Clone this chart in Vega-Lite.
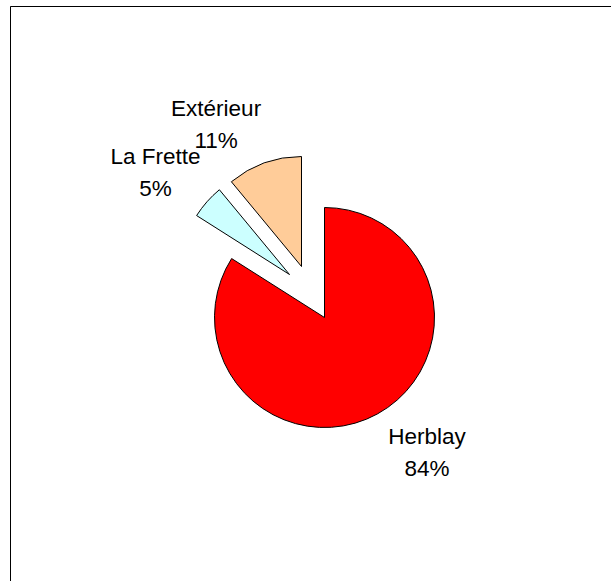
{
  "$schema": "https://vega.github.io/schema/vega-lite/v6.json",
  "width": 601,
  "height": 575,
  "autosize": "none",
  "padding": {"left": 10, "top": 6, "right": 0, "bottom": 0},
  "background": "white",
  "view": {"stroke": "#000000", "strokeWidth": 1, "fill": "white", "strokeDash": [601, 1176, 576, 3000]},
  "config": {
    "text": {"font": "Liberation Sans"}
  },
  "data": {
    "values": [
      {"name": "Herblay", "value": 84, "label": "Herblay\n84%", "rank": 1},
      {"name": "La Frette", "value": 5, "label": "La Frette\n5%", "rank": 2},
      {"name": "Extérieur", "value": 11, "label": "Extérieur\n11%", "rank": 3}
    ]
  },
  "encoding": {
    "theta": {"field": "value", "type": "quantitative", "stack": true},
    "order": {"field": "rank", "type": "quantitative"}
  },
  "layer": [
    {
      "mark": {"type": "arc", "outerRadius": 110, "stroke": "#000000", "strokeWidth": 1, "xOffset": 14, "yOffset": 24},
      "encoding": {
        "color": {"field": "name", "type": "nominal", "scale": {"domain": ["Herblay", "La Frette", "Extérieur"], "range": ["#FF0000", "#CCFFFF", "#FFCC99"]}, "legend": null},
        "opacity": {"condition": {"test": "datum.name === 'Herblay'", "value": 1}, "value": 0}
      }
    },
    {
      "mark": {"type": "arc", "outerRadius": 110, "stroke": "#000000", "strokeWidth": 1, "xOffset": -21, "yOffset": -19},
      "encoding": {
        "color": {"field": "name", "type": "nominal", "scale": {"domain": ["Herblay", "La Frette", "Extérieur"], "range": ["#FF0000", "#CCFFFF", "#FFCC99"]}, "legend": null},
        "opacity": {"condition": {"test": "datum.name === 'La Frette'", "value": 1}, "value": 0}
      }
    },
    {
      "mark": {"type": "arc", "outerRadius": 110, "stroke": "#000000", "strokeWidth": 1, "xOffset": -9, "yOffset": -27},
      "encoding": {
        "color": {"field": "name", "type": "nominal", "scale": {"domain": ["Herblay", "La Frette", "Extérieur"], "range": ["#FF0000", "#CCFFFF", "#FFCC99"]}, "legend": null},
        "opacity": {"condition": {"test": "datum.name === 'Extérieur'", "value": 1}, "value": 0}
      }
    },
    {
      "mark": {"type": "text", "radius": 196, "dx": 22, "dy": -28, "fontSize": 22.5, "lineHeight": 32, "lineBreak": "\n", "align": "center", "baseline": "middle", "color": "#000000"},
      "encoding": {
        "text": {"field": "label", "type": "nominal"},
        "opacity": {"condition": {"test": "datum.name === 'Herblay'", "value": 1}, "value": 0}
      }
    },
    {
      "mark": {"type": "text", "radius": 196, "dx": -8, "dy": -7, "fontSize": 22.5, "lineHeight": 32, "lineBreak": "\n", "align": "center", "baseline": "middle", "color": "#000000"},
      "encoding": {
        "text": {"field": "label", "type": "nominal"},
        "opacity": {"condition": {"test": "datum.name === 'La Frette'", "value": 1}, "value": 0}
      }
    },
    {
      "mark": {"type": "text", "radius": 196, "dx": -28, "dy": 0, "fontSize": 22.5, "lineHeight": 32, "lineBreak": "\n", "align": "center", "baseline": "middle", "color": "#000000"},
      "encoding": {
        "text": {"field": "label", "type": "nominal"},
        "opacity": {"condition": {"test": "datum.name === 'Extérieur'", "value": 1}, "value": 0}
      }
    }
  ]
}
